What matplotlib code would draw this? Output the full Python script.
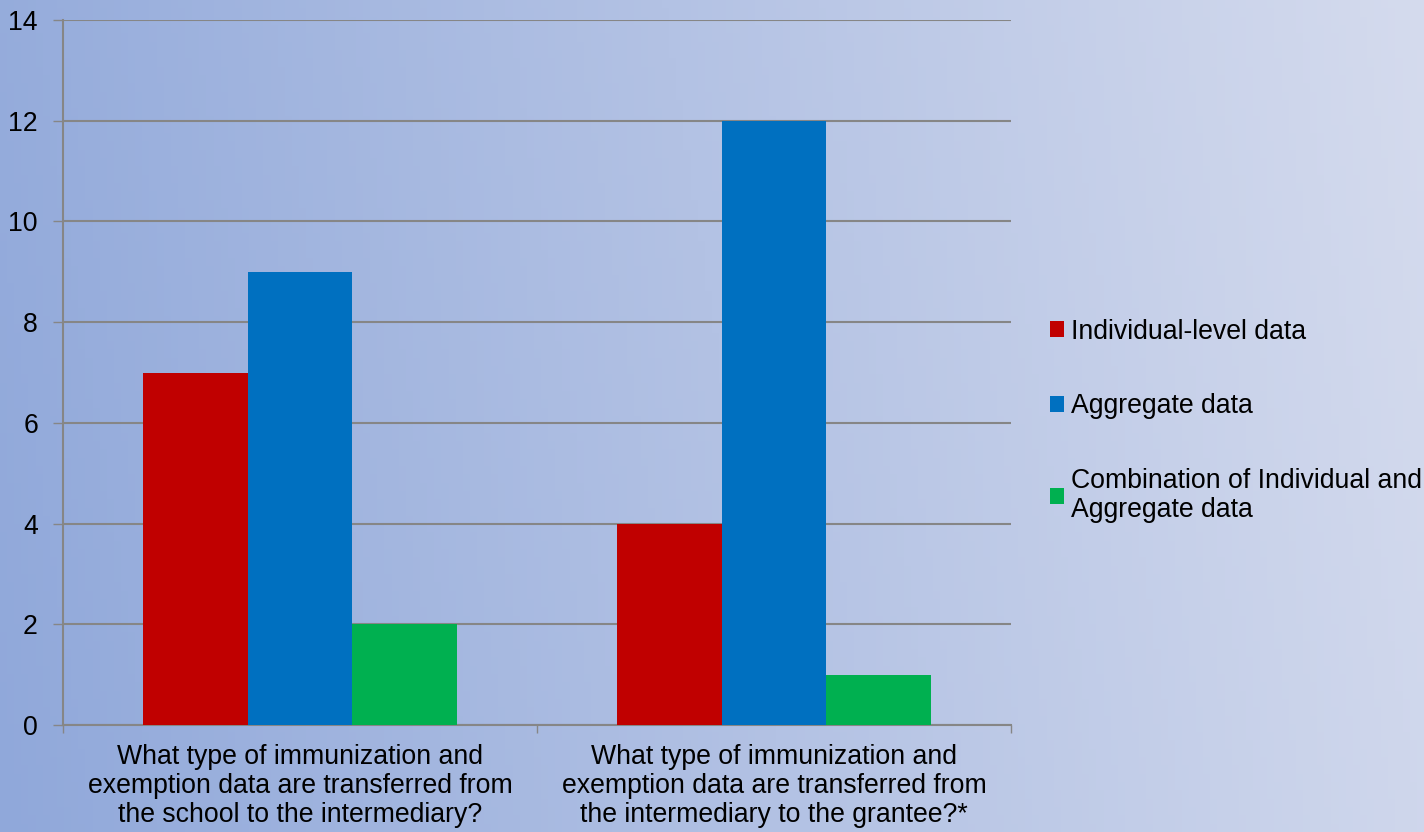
import numpy as np
import matplotlib
matplotlib.use("Agg")
import matplotlib.pyplot as plt
from matplotlib.patches import Patch

# ── data ────────────────────────────────────────────────────────────────────
categories = [
    "What type of immunization and\nexemption data are transferred from\nthe school to the intermediary?",
    "What type of immunization and\nexemption data are transferred from\nthe intermediary to the grantee?*",
]
series_names = [
    "Individual-level data",
    "Aggregate data",
    "Combination of Individual and\nAggregate data",
]
individual = [7, 4]
aggregate = [9, 12]
combination = [2, 1]
y_ticks = [0, 2, 4, 6, 8, 10, 12, 14]

COLORS = ["#C00000", "#0070C0", "#00B050"]
GRID = "#868686"
FS = 19.2

plt.rcParams["font.family"] = ["Liberation Sans", "DejaVu Sans"]

fig = plt.figure(figsize=(14.24, 8.32), dpi=100)

# ── background gradient ─────────────────────────────────────────────────────
bg = fig.add_axes([0, 0, 1, 1], zorder=-10)
h, w = 100, 200
xx = np.linspace(0, 1, w)[None, :]
yy = np.linspace(0, 1, h)[:, None]
left = np.array([144, 168, 218]) / 255
right = np.array([214, 220, 238]) / 255
t = np.clip(xx * 0.9 + (1 - yy) * 0.08, 0, 1)[..., None]
img = left * (1 - t) + right * t
bg.imshow(img, aspect="auto", extent=[0, 1, 0, 1], origin="upper")
bg.set_axis_off()

# ── bars ────────────────────────────────────────────────────────────────────
ax = fig.add_axes([63 / 1424, 107 / 832, 948 / 1424, 705 / 832])
ax.patch.set_alpha(0)
x = np.arange(len(categories))
bw = 0.2215
for i, (vals, col, name) in enumerate(zip([individual, aggregate, combination],
                                          COLORS, series_names)):
    ax.bar(x + (i - 1) * bw, vals, width=bw, color=col, label=name, zorder=3)

ax.set_xlim(-0.5, 1.5)
ax.set_ylim(0, 14)
ax.set_yticks(y_ticks)
ax.yaxis.grid(True, color=GRID, linewidth=1.5, zorder=0)
ax.set_axisbelow(True)

ax.set_xticks(x)
ax.set_xticklabels(categories, fontsize=FS, linespacing=1.15)
ax.set_xticks([-0.5, 0.5, 1.5], minor=True)
ax.tick_params(axis="x", which="major", length=0, pad=14)
ax.tick_params(axis="x", which="minor", length=6, color=GRID, width=1)
ax.tick_params(axis="y", length=7, color=GRID, width=1, labelsize=FS, pad=11)

for s in ["top", "right"]:
    ax.spines[s].set_visible(False)
ax.spines["left"].set_color(GRID)
ax.spines["bottom"].set_color(GRID)
ax.spines["left"].set_linewidth(1.5)
ax.spines["bottom"].set_linewidth(1.5)

handles = [Patch(facecolor=c) for c in COLORS]
leg = fig.legend(handles, series_names, loc="upper left",
                 bbox_to_anchor=(1039 / 1424, 1 - 308 / 832),
                 frameon=False, fontsize=FS, handlelength=0.55, handleheight=0.55,
                 handletextpad=0.25, labelspacing=1.82, borderaxespad=0)
for txt in leg.get_texts():
    txt.set_linespacing(1.15)

fig.savefig("out.png", dpi=100)
